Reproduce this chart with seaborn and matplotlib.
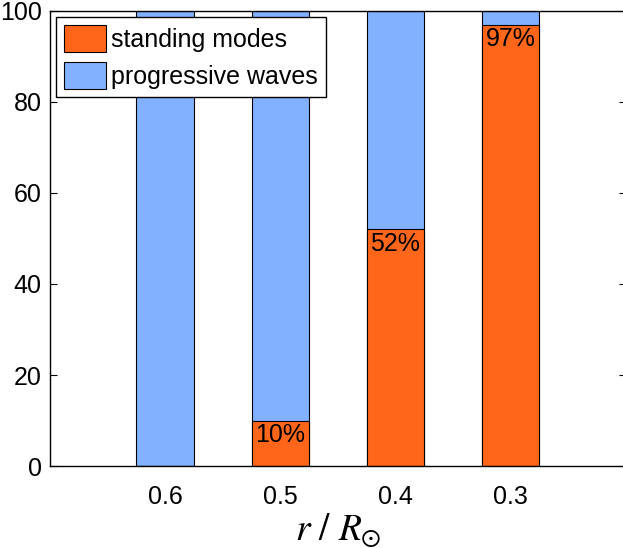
import numpy as np
import pandas as pd
import matplotlib
matplotlib.use("Agg")
import matplotlib.pyplot as plt
import matplotlib.patches as mpatches
import seaborn as sns

radii = ["0.6", "0.5", "0.4", "0.3"]
standing = [0, 10, 52, 97]
progressive = [100, 90, 48, 3]
pct_labels = ["", "10%", "52%", "97%"]

sns.set_theme(style="white")
plt.rcParams["font.family"] = ["Liberation Sans", "DejaVu Sans"]
plt.rcParams["mathtext.fontset"] = "stix"
plt.rcParams["text.color"] = "black"
plt.rcParams["axes.labelcolor"] = "black"
plt.rcParams["xtick.color"] = "black"
plt.rcParams["ytick.color"] = "black"

orange = "#FF661A"
blue = "#82B1FF"

df = pd.DataFrame({"r": radii, "standing": standing,
                   "total": np.array(standing) + np.array(progressive)})

fig = plt.figure(figsize=(6.23, 5.48), dpi=100)
ax = fig.add_axes([0.0803, 0.1496, 0.924, 0.8304])

# blue = full column, orange drawn on top for the standing fraction
sns.barplot(data=df, x="r", y="total", color=blue, width=0.5,
            edgecolor="black", linewidth=0.8, saturation=1, ax=ax)
sns.barplot(data=df, x="r", y="standing", color=orange, width=0.5,
            edgecolor="black", linewidth=0.8, saturation=1, ax=ax)

for i, (v, lab) in enumerate(zip(standing, pct_labels)):
    if lab:
        ax.text(i, v - 0.6, lab, ha="center", va="top", fontsize=18, color="black")

ax.set_xlim(-1, 4)
ax.set_ylim(0, 100)
ax.set_yticks([0, 20, 40, 60, 80, 100])
ax.tick_params(axis="y", direction="in", left=True, right=True, length=5,
               width=0.8, labelsize=18, pad=6)
ax.tick_params(axis="x", bottom=False, labelsize=18, pad=8)
for s in ax.spines.values():
    s.set_color("black")
    s.set_linewidth(1.0)

ax.set_xlabel(r"$r\ /\ R_{\odot}$", fontsize=27, labelpad=1)
ax.set_ylabel("")

handles = [mpatches.Patch(facecolor=orange, edgecolor="black", linewidth=0.8, label="standing modes"),
           mpatches.Patch(facecolor=blue, edgecolor="black", linewidth=0.8, label="progressive waves")]
leg = ax.legend(handles=handles, loc="upper left", fontsize=18, frameon=True, fancybox=False,
                borderaxespad=0.25, handlelength=1.7, handleheight=1.3, handletextpad=0.2,
                borderpad=0.3, labelspacing=0.4)
leg.get_frame().set_edgecolor("black")
leg.get_frame().set_linewidth(1.0)
leg.get_frame().set_alpha(1)

fig.savefig("out.png", dpi=100)
